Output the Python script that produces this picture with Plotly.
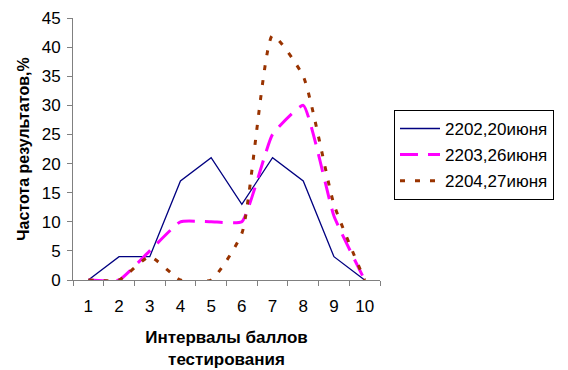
import plotly.graph_objects as go

categories = ["1", "2", "3", "4", "5", "6", "7", "8", "9", "10"]
s1_name = "2202,20июня"
s2_name = "2203,26июня"
s3_name = "2204,27июня"
s1 = [0, 4, 4, 17, 21, 13, 21, 17, 4, 0]
s2 = [0, 0, 5, 10, 10, 10, 25, 30, 11, 0]
s3 = [0, 0, 4, 0, 0, 8, 42, 35, 13, 0]

font = "Liberation Sans, Arial, sans-serif"
fig = go.Figure()
fig.add_trace(go.Scatter(x=categories, y=s1, name=s1_name, mode="lines", legendgroup="a",
                         line=dict(color="#000080", width=1.3)))
fig.add_trace(go.Scatter(x=categories, y=s2, name=s2_name, mode="lines", legendgroup="b",
                         line=dict(color="#FF00FF", width=3, dash="18px,10px",
                                   shape="spline", smoothing=0.4)))
fig.add_trace(go.Scatter(x=categories, y=s3, name=s3_name, mode="lines", legendgroup="c",
                         line=dict(color="#993300", width=3, dash="5px,10px",
                                   shape="spline", smoothing=0.5)))

fig.update_layout(
    width=568, height=370,
    margin=dict(l=73, r=188, t=18, b=90),
    paper_bgcolor="white", plot_bgcolor="white",
    font=dict(family=font, size=17, color="black"),
    showlegend=True,
    legend=dict(x=1.0456, xanchor="left", y=0.649, yanchor="top",
                bordercolor="black", borderwidth=1, font=dict(size=17),
                tracegroupgap=1, itemwidth=40),
    xaxis=dict(type="category", range=[-0.5, 9.5], showline=True, linecolor="#808080",
               ticks="outside", tickson="boundaries", ticklen=5, tickcolor="#808080",
               ticklabelstandoff=11, automargin=False,
               showgrid=False, zeroline=False,
               title=dict(text="<b>Интервалы баллов<br>тестирования</b>", font=dict(size=17), standoff=15)),
    yaxis=dict(range=[0, 45], dtick=5, showline=True, linecolor="#808080",
               ticks="outside", ticklen=5, tickcolor="#808080",
               ticklabelstandoff=3, automargin=False,
               showgrid=False, zeroline=False,
               title=dict(text="<b>Частота результатов,%</b>", font=dict(size=16), standoff=8)),
)

fig.write_html("out.html")
